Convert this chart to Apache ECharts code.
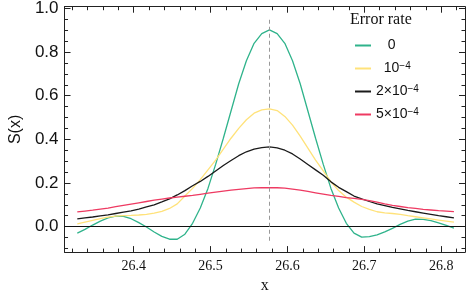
<!DOCTYPE html>
<html><head><meta charset="utf-8">
<script src="https://cdn.jsdelivr.net/npm/echarts@6/dist/echarts.min.js"></script>
<style>html,body{margin:0;padding:0;background:#fff}#c{width:474px;height:299px}</style>
</head><body><div id="c"></div>
<script>
const xValues = [26.3266,26.3366,26.3466,26.3566,26.3666,26.3766,26.3866,26.3966,26.4066,26.4166,
  26.4266,26.4366,26.4466,26.4566,26.4666,26.4766,26.4866,26.4966,26.5066,26.5166,
  26.5266,26.5366,26.5466,26.5566,26.5666,26.5766,26.5866,26.5966,26.6066,26.6166,
  26.6266,26.6366,26.6466,26.6566,26.6666,26.6766,26.6866,26.6966,26.7066,26.7166,
  26.7266,26.7366,26.7466,26.7566,26.7666,26.7766,26.7866,26.7966,26.8066,26.8166];
const rate0 = [-0.030,-0.013,0.007,0.025,0.040,0.048,0.047,0.036,0.018,-0.002,
  -0.025,-0.045,-0.058,-0.058,-0.035,0.015,0.085,0.175,0.285,0.405,
  0.530,0.655,0.760,0.840,0.885,0.902,0.885,0.840,0.760,0.655,
  0.530,0.405,0.285,0.175,0.085,0.015,-0.030,-0.048,-0.046,-0.038,
  -0.024,-0.008,0.010,0.025,0.034,0.033,0.027,0.017,0.005,-0.007];
const rate1e4 = [0.012,0.020,0.028,0.036,0.043,0.048,0.050,0.051,0.053,0.056,
  0.062,0.070,0.083,0.104,0.140,0.175,0.215,0.260,0.305,0.355,
  0.405,0.450,0.490,0.520,0.535,0.540,0.532,0.505,0.465,0.415,
  0.360,0.305,0.255,0.205,0.165,0.135,0.112,0.092,0.079,0.068,
  0.063,0.060,0.056,0.050,0.045,0.040,0.035,0.030,0.025,0.020];
const rate2e4 = [0.035,0.040,0.044,0.049,0.054,0.060,0.066,0.072,0.080,0.090,
  0.100,0.113,0.127,0.145,0.165,0.187,0.207,0.230,0.255,0.280,
  0.303,0.325,0.343,0.355,0.362,0.365,0.361,0.350,0.333,0.310,
  0.285,0.260,0.235,0.205,0.180,0.160,0.140,0.127,0.115,0.104,
  0.096,0.088,0.081,0.074,0.068,0.062,0.056,0.050,0.045,0.040];
const rate5e4 = [0.067,0.071,0.075,0.080,0.085,0.091,0.097,0.103,0.109,0.115,
  0.121,0.126,0.131,0.135,0.139,0.143,0.148,0.153,0.158,0.163,
  0.167,0.171,0.174,0.177,0.178,0.179,0.178,0.176,0.172,0.167,
  0.161,0.155,0.149,0.143,0.138,0.133,0.129,0.125,0.119,0.112,
  0.104,0.097,0.092,0.087,0.083,0.079,0.076,0.073,0.071,0.069];
const seriesNames = ['0','1e-4','2e-4','5e-4'];
const legendLabels = ['   0','  10{s|−4}','2×10{s|−4}','5×10{s|−4}'];
const seriesColors = ['#2fb38b','#ffe27a','#1a1a1a','#ee3a62'];
const xMajorTicks = [26.4,26.5,26.6,26.7,26.8];
const xMinorTicks = [26.32,26.34,26.36,26.38,26.42,26.44,26.46,26.48,26.52,26.54,26.56,26.58,
  26.62,26.64,26.66,26.68,26.72,26.74,26.76,26.78,26.82];
const yMajorTicks = [0,0.2,0.4,0.6,0.8,1.0];
const yMinorTicks = [-0.1,-0.05,0.05,0.1,0.15,0.25,0.3,0.35,0.45,0.5,0.55,0.65,0.7,0.75,0.85,0.9,0.95];
const xRange = [26.31,26.831];
const yRange = [-0.117,1.008];
const peakX = 26.5766;
const peakLineY = [-0.065,0.95];

const allData = [rate0, rate1e4, rate2e4, rate5e4];
const axisCol = '#222';

function xAxisDef(pos, ticks, len, showLine, withLabel) {
  const a = {
    type:'value', position:pos, min:xRange[0], max:xRange[1],
    axisLine:{show:showLine, onZero:false, lineStyle:{color:axisCol,width:1}},
    axisTick:{show:true, inside:true, length:len, customValues:ticks, lineStyle:{color:axisCol,width:1}},
    axisLabel:{show:false},
    splitLine:{show:false}
  };
  if (withLabel) {
    a.axisLabel = {show:true, customValues:ticks, formatter:v=>v.toFixed(1), fontFamily:'Liberation Serif', fontSize:14, color:'#111', margin:7};
    a.name = 'x'; a.nameLocation='middle'; a.nameGap=21;
    a.nameTextStyle = {fontFamily:'Liberation Serif', fontSize:16, color:'#111'};
  }
  return a;
}
function yAxisDef(pos, ticks, len, showLine, withLabel) {
  const a = {
    type:'value', position:pos, min:yRange[0], max:yRange[1],
    axisLine:{show:showLine, onZero:false, lineStyle:{color:axisCol,width:1}},
    axisTick:{show:true, inside:true, length:len, customValues:ticks, lineStyle:{color:axisCol,width:1}},
    axisLabel:{show:false},
    splitLine:{show:false}
  };
  if (withLabel) {
    a.axisLabel = {show:true, customValues:ticks, formatter:v=>v.toFixed(1), fontFamily:'Liberation Sans', fontSize:17, color:'#111', margin:6};
    a.name = 'S(x)'; a.nameLocation='middle'; a.nameGap=39;
    a.nameTextStyle = {fontFamily:'Liberation Sans', fontSize:16, color:'#111'};
  }
  return a;
}

const chart = echarts.init(document.getElementById('c'), null, {renderer:'canvas'});
const series = seriesNames.map((n,i)=>({
  name:n, type:'line', xAxisIndex:0, yAxisIndex:0,
  showSymbol:false, symbol:'none', smooth:false,
  lineStyle:{color:seriesColors[i], width:1.3},
  itemStyle:{color:seriesColors[i]},
  data: xValues.map((x,k)=>[x, allData[i][k]]),
  z: 3
}));
series[0].markLine = {
  silent:true, symbol:'none', label:{show:false}, animation:false,
  data:[
    {yAxis:0, lineStyle:{color:'#111', type:'solid', width:1}},
    [{coord:[peakX, peakLineY[0]], lineStyle:{color:'#999', type:[4,3], width:1}}, {coord:[peakX, peakLineY[1]]}]
  ]
};
chart.setOption({
  animation:false,
  backgroundColor:'#fff',
  grid:{left:57, right:9, top:6, bottom:41, containLabel:false},
  title:{text:'Error rate', left:350, top:12, padding:0, textStyle:{fontFamily:'Liberation Serif', fontSize:16, fontWeight:'normal', color:'#111'}},
  legend:{
    orient:'vertical', left:355, top:38, padding:0, icon:'rect', itemWidth:16, itemHeight:2, itemGap:8,
    data:seriesNames,
    formatter:name=>legendLabels[seriesNames.indexOf(name)],
    textStyle:{fontFamily:'Liberation Sans', fontSize:14, color:'#111', lineHeight:15,
      rich:{s:{fontFamily:'Liberation Sans', fontSize:10, color:'#111', verticalAlign:'top', lineHeight:10}}}
  },
  xAxis:[
    xAxisDef('bottom', xMajorTicks, 6, true, true),
    xAxisDef('top', xMajorTicks, 6, true, false),
    xAxisDef('bottom', xMinorTicks, 3.5, false, false),
    xAxisDef('top', xMinorTicks, 3.5, false, false)
  ],
  yAxis:[
    yAxisDef('left', yMajorTicks, 6, true, true),
    yAxisDef('right', yMajorTicks, 6, true, false),
    yAxisDef('left', yMinorTicks, 3.5, false, false),
    yAxisDef('right', yMinorTicks, 3.5, false, false)
  ],
  series: series
});
</script></body></html>
